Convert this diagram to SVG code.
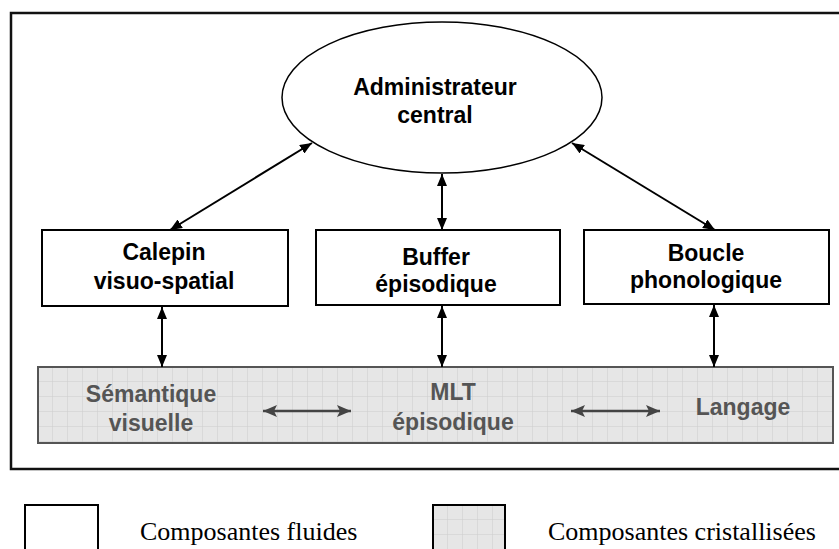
<svg xmlns="http://www.w3.org/2000/svg" width="839" height="549" viewBox="0 0 839 549">
<style>
.b{font-family:"Liberation Sans",Arial,sans-serif;font-weight:bold;font-size:23px;text-anchor:middle;fill:#000}
.g{font-family:"Liberation Sans",Arial,sans-serif;font-weight:bold;font-size:23px;text-anchor:middle;fill:#555}
.s{font-family:"Liberation Serif","Times New Roman",serif;font-size:26px;fill:#000}
.box{fill:#fff;stroke:#000;stroke-width:2}
.c{stroke:#000;stroke-width:2;fill:none;marker-start:url(#ah);marker-end:url(#ah)}
.cg{stroke:#444;stroke-width:2.5;fill:none;marker-start:url(#ahg);marker-end:url(#ahg)}
</style>
<defs>
<marker id="ah" viewBox="0 0 12 10" refX="12" refY="5" markerWidth="12" markerHeight="10" markerUnits="userSpaceOnUse" orient="auto-start-reverse"><path d="M0,0 L12,5 L0,10 Z" fill="#000"/></marker>
<marker id="ahg" viewBox="0 0 14 12" refX="14" refY="6" markerWidth="14" markerHeight="12" markerUnits="userSpaceOnUse" orient="auto-start-reverse"><path d="M0,0 L14,6 L0,12 L3,6 Z" fill="#444"/></marker>
<pattern id="grid" x="38" y="367" width="15" height="15" patternUnits="userSpaceOnUse"><rect width="15" height="15" fill="#e6e6e6"/><path d="M15,0 V15 M0,15 H15" stroke="#cdcdcd" stroke-width="1" fill="none"/></pattern>
<pattern id="grid2" x="433" y="505" width="15" height="15" patternUnits="userSpaceOnUse"><rect width="15" height="15" fill="#e6e6e6"/><path d="M15,0 V15 M0,15 H15" stroke="#cdcdcd" stroke-width="1" fill="none"/></pattern>
</defs>
<rect width="839" height="549" fill="#fff"/>
<rect id="frame" x="11" y="13" width="835" height="456" fill="none" stroke="#111" stroke-width="2.5"/>
<g id="crystal">
<rect x="38" y="367" width="795" height="76" fill="url(#grid)" stroke="#555" stroke-width="2"/>
<text class="g" x="151" y="402">Sémantique</text>
<text class="g" x="151" y="431">visuelle</text>
<text class="g" x="453" y="400">MLT</text>
<text class="g" x="453" y="430">épisodique</text>
<text class="g" x="743" y="415">Langage</text>
</g>
<g id="admin">
<ellipse cx="442" cy="97.5" rx="160" ry="75.5" fill="#fff" stroke="#000" stroke-width="1.5"/>
<text class="b" x="435" y="95">Administrateur</text>
<text class="b" x="435" y="123">central</text>
</g>
<g id="calepin">
<rect class="box" x="42" y="230" width="246" height="76"/>
<text class="b" x="164" y="260">Calepin</text>
<text class="b" x="164" y="289">visuo-spatial</text>
</g>
<g id="buffer">
<rect class="box" x="316" y="230" width="244" height="75"/>
<text class="b" x="436" y="265">Buffer</text>
<text class="b" x="436" y="292">épisodique</text>
</g>
<g id="boucle">
<rect class="box" x="584" y="230" width="245" height="74"/>
<text class="b" x="706" y="261">Boucle</text>
<text class="b" x="706" y="288">phonologique</text>
</g>
<g id="connectors">
<line class="c" x1="312" y1="143" x2="170" y2="230"/>
<line class="c" x1="442" y1="174" x2="442" y2="230"/>
<line class="c" x1="572" y1="143" x2="715" y2="230"/>
<line class="c" x1="162" y1="307" x2="162" y2="367"/>
<line class="c" x1="442" y1="306" x2="442" y2="367"/>
<line class="c" x1="714" y1="305" x2="714" y2="367"/>
<line class="cg" x1="263" y1="411" x2="351" y2="411"/>
<line class="cg" x1="571" y1="411" x2="660" y2="411"/>
</g>
<g id="legend">
<rect x="25" y="505" width="73" height="50" fill="#fff" stroke="#000" stroke-width="2"/>
<text class="s" x="140" y="540">Composantes fluides</text>
<rect x="433" y="505" width="72" height="50" fill="url(#grid2)" stroke="#000" stroke-width="2"/>
<text class="s" x="548" y="540">Composantes cristallisées</text>
</g>
</svg>
